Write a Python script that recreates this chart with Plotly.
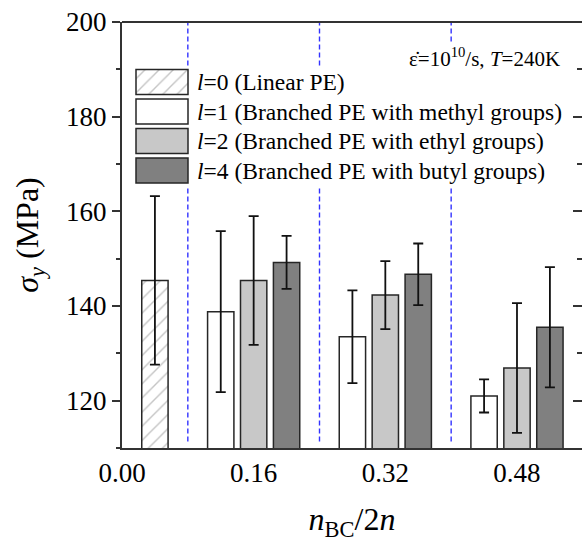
import plotly.graph_objects as go

# ---------------- data ----------------
group_labels = ["0.00", "0.16", "0.32", "0.48"]
group_values = [0.00, 0.16, 0.32, 0.48]
branched_groups = [0.16, 0.32, 0.48]

linear_group = [0.00]
linear_sigma = [145.4]
linear_err = [17.8]

methyl_sigma = [138.8, 133.5, 121.0]
methyl_err = [17.0, 9.8, 3.5]

ethyl_sigma = [145.4, 142.3, 126.9]
ethyl_err = [13.6, 7.2, 13.7]

butyl_sigma = [149.2, 146.7, 135.5]
butyl_err = [5.6, 6.5, 12.7]

legend_labels = [
    "<i>l</i>=0 (Linear PE)",
    "<i>l</i>=1 (Branched PE with methyl groups)",
    "<i>l</i>=2 (Branched PE with ethyl groups)",
    "<i>l</i>=4 (Branched PE with butyl groups)",
]

# ---------------- layout constants ----------------
W, H = 582, 544
ML, MR, MT, MB = 122, 0, 22, 96
STEP = 0.04          # spacing between bars within a group
BAR_W = 0.032
AX = "#333333"
FONT = "Liberation Serif, Times New Roman, Times, serif"
OUTLINE = dict(color="#262626", width=1.5)
ERR = dict(type="data", color="#111111", thickness=1.8, width=5, visible=True)

LIGHT = "#c8c8c8"
DARK = "#808080"


def hatch():
    return dict(shape="/", fgcolor="#8a8a8a", bgcolor="white", size=10, solidity=0.14)


fig = go.Figure()

# separators between groups (dashed blue)
for g in branched_groups:
    fig.add_shape(type="line", xref="x", yref="paper", x0=g - 2 * STEP, x1=g - 2 * STEP,
                  y0=0.015, y1=1, layer="below",
                  line=dict(color="#3333ff", width=1.4, dash="5px,3px"))

# bars
fig.add_trace(go.Bar(
    x=[v + STEP for v in linear_group], y=linear_sigma, width=BAR_W,
    marker=dict(color="white", line=OUTLINE, pattern=hatch()),
    error_y=dict(array=linear_err, **ERR), showlegend=False))
fig.add_trace(go.Bar(
    x=[v - STEP for v in branched_groups], y=methyl_sigma, width=BAR_W,
    marker=dict(color="white", line=OUTLINE),
    error_y=dict(array=methyl_err, **ERR), showlegend=False))
fig.add_trace(go.Bar(
    x=branched_groups, y=ethyl_sigma, width=BAR_W,
    marker=dict(color=LIGHT, line=OUTLINE),
    error_y=dict(array=ethyl_err, **ERR), showlegend=False))
fig.add_trace(go.Bar(
    x=[v + STEP for v in branched_groups], y=butyl_sigma, width=BAR_W,
    marker=dict(color=DARK, line=OUTLINE),
    error_y=dict(array=butyl_err, **ERR), showlegend=False))

# invisible trace to carry right-side inner ticks
fig.add_trace(go.Scatter(x=[0.1], y=[150], yaxis="y3", mode="markers",
                         marker=dict(opacity=0), hoverinfo="skip", showlegend=False))

# ---------------- custom legend (pixel overlay axes) ----------------
LX0, LX1 = 136, 188
rows = [82, 111.5, 141, 170.5]
# white legend background
fig.add_trace(go.Bar(orientation="h", y=[127], x=[438], base=[130], width=122,
                     xaxis="x2", yaxis="y2", marker=dict(color="white", line=dict(width=0)),
                     hoverinfo="skip", showlegend=False))
sw_styles = [
    dict(color="white", line=OUTLINE, pattern=hatch()),
    dict(color="white", line=OUTLINE),
    dict(color=LIGHT, line=OUTLINE),
    dict(color=DARK, line=OUTLINE),
]
for r, st in zip(rows, sw_styles):
    fig.add_trace(go.Bar(orientation="h", y=[r], x=[LX1 - LX0], base=[LX0], width=25,
                         xaxis="x2", yaxis="y2", marker=st, hoverinfo="skip", showlegend=False))
for r, lab in zip(rows, legend_labels):
    fig.add_annotation(xref="x2", yref="y2", x=195, y=r, text=lab, showarrow=False,
                       xanchor="left", yanchor="middle",
                       font=dict(family=FONT, size=23.5, color="black"))

# condition annotation
fig.add_annotation(xref="x2", yref="y2", x=562, y=57,
                   text="ε̇=10<sup>10</sup>/s, <i>T</i>=240K", showarrow=False,
                   xanchor="right", yanchor="middle", bgcolor="white",
                   font=dict(family=FONT, size=21, color="black"))

# top frame line
fig.add_shape(type="line", xref="paper", yref="paper", x0=0, x1=1, y0=1, y1=1,
              line=dict(color=AX, width=2))

fig.update_layout(
    width=W, height=H,
    margin=dict(l=ML, r=MR, t=MT, b=MB, pad=0),
    paper_bgcolor="white", plot_bgcolor="white",
    barmode="overlay", showlegend=False,
    font=dict(family=FONT, size=27, color="black"),
    xaxis=dict(range=[0, 0.559], tickvals=group_values, ticktext=group_labels,
               ticks="", showline=True, linecolor=AX, linewidth=2,
               showgrid=False, zeroline=False, tickfont=dict(family=FONT, size=27),
               title=dict(text="<i>n</i><sub>BC</sub>/2<i>n</i>", standoff=20,
                          font=dict(family=FONT, size=32, color="black")),
               fixedrange=True),
    yaxis=dict(range=[110, 200], tick0=0, dtick=20, ticks="outside", ticklen=8,
               tickwidth=2, tickcolor=AX, showline=True, linecolor=AX, linewidth=2,
               showgrid=False, zeroline=False, tickfont=dict(family=FONT, size=27),
               minor=dict(dtick=10, ticks="outside", ticklen=4, tickwidth=2, tickcolor=AX),
               title=dict(text="<i>σ</i><sub><i>y</i></sub> (MPa)", standoff=18,
                          font=dict(family=FONT, size=32, color="black")),
               fixedrange=True),
    yaxis3=dict(range=[110, 200], overlaying="y", side="right", anchor="x",
                tick0=0, dtick=20, ticks="inside", ticklen=9, tickwidth=2, tickcolor=AX,
                showticklabels=False, showline=False, showgrid=False, zeroline=False,
                minor=dict(dtick=10, ticks="inside", ticklen=5, tickwidth=2, tickcolor=AX),
                fixedrange=True),
    xaxis2=dict(range=[ML, W - MR], overlaying="x", anchor="y2", visible=False, fixedrange=True),
    yaxis2=dict(range=[H - MB, MT], overlaying="y", anchor="x2", visible=False, fixedrange=True),
)

fig.write_html("out.html", config={"displayModeBar": False})
